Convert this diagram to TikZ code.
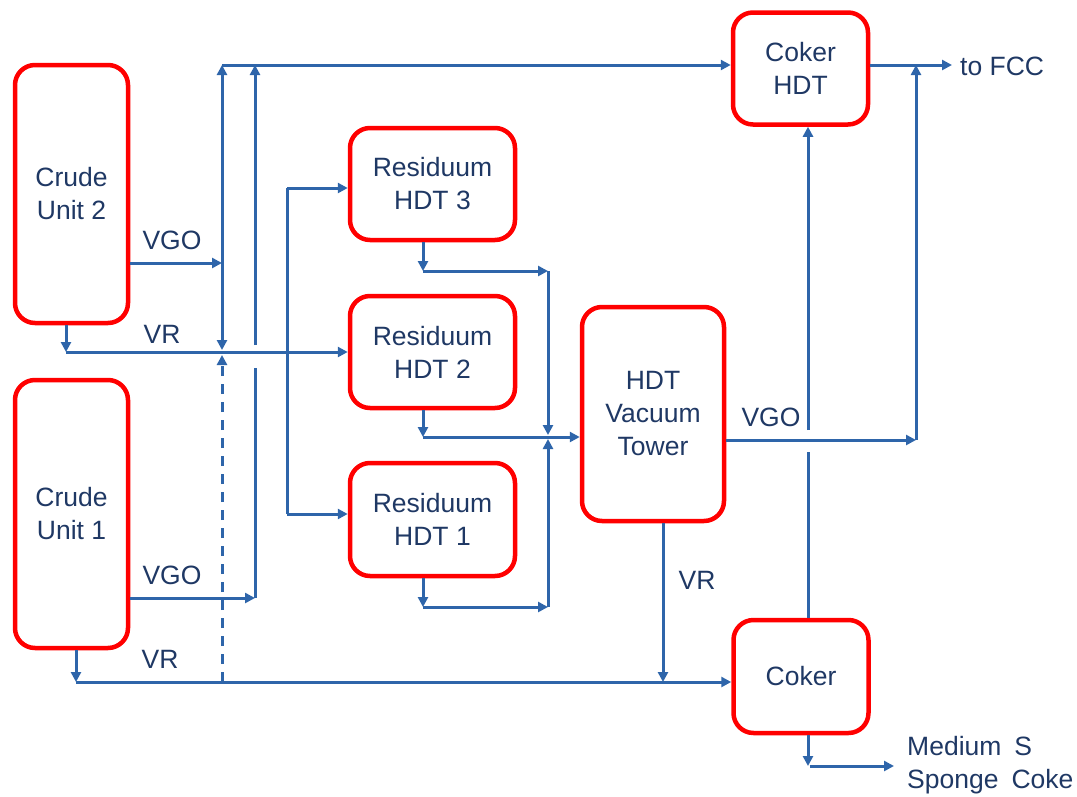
\documentclass[tikz,border=0pt]{standalone}
\usepackage{fontspec}
\setmainfont{Liberation Sans}
\usetikzlibrary{arrows.meta}
\definecolor{flow}{RGB}{46,101,170}
\definecolor{txt}{RGB}{31,56,100}
\definecolor{unitred}{RGB}{255,0,0}
\tikzset{
  unit/.style={draw=unitred, line width=4.5pt, rounded corners=20pt, align=center,
    text=txt, font=\fontsize{26.5}{33}\selectfont, inner sep=0pt},
  pipe/.style={draw=flow, line width=3pt},
  arr/.style={pipe, -{Triangle[length=10pt,width=10pt]}},
  lbl/.style={text=txt, font=\fontsize{26.5}{33}\selectfont, inner sep=0pt},
}
\begin{document}
\begin{tikzpicture}[x=1pt,y=-1pt]
\useasboundingbox (0,0) rectangle (1077,796);
% units
\node[unit, minimum width=113pt, minimum height=258pt] (cu2) at (71.5,194) {Crude\\Unit 2};
\node[unit, minimum width=113pt, minimum height=268pt] (cu1) at (71.5,514) {Crude\\Unit 1};
\node[unit, minimum width=165pt, minimum height=112pt] (r3) at (432.5,184) {Residuum\\HDT 3};
\node[unit, minimum width=165pt, minimum height=112pt] (r2) at (432.5,352) {Residuum\\HDT 2};
\node[unit, minimum width=165pt, minimum height=113pt] (r1) at (432.5,519.5) {Residuum\\HDT 1};
\node[unit, minimum width=142pt, minimum height=214pt] (vt) at (653,414) {HDT\\Vacuum\\Tower};
\node[unit, minimum width=135pt, minimum height=112pt] (ch) at (800.5,68.5) {Coker\\HDT};
\node[unit, minimum width=135pt, minimum height=113pt] (ck) at (801,676.5) {Coker};
% junction coordinates
\coordinate (aTop) at (222,65);
\coordinate (aMid) at (222,263);
\coordinate (aBot) at (222,350);
\coordinate (dTop) at (222,355);
\coordinate (dBot) at (222,682);
\coordinate (bTop) at (255,65);
\coordinate (bGapT) at (255,345);
\coordinate (bGapB) at (255,368);
\coordinate (bBot) at (255,598);
\coordinate (vr2) at (66,352);
\coordinate (vr1) at (76,682);
\coordinate (sTop) at (287,188);
\coordinate (sBot) at (287,514);
\coordinate (o3) at (423,271);
\coordinate (o2) at (423,437);
\coordinate (o1) at (423,607);
\coordinate (m3) at (548,271);
\coordinate (m1) at (548,607);
\coordinate (mU) at (548,435);
\coordinate (mD) at (548,439);
\coordinate (vtr) at (663,682);
\coordinate (vg) at (916,440);
\coordinate (vgT) at (916,65);
\coordinate (fcc) at (952,65);
\coordinate (kGapB) at (808,452);
\coordinate (kGapT) at (808,430);
\coordinate (kOut) at (808,766);
\coordinate (coke) at (894,766);
% Crude unit 2
\draw[arr] (cu2.east |- aMid) -- (aMid);
\draw[arr] (cu2.south -| vr2) -- (vr2);
\draw[arr] (vr2) -- (r2.west |- vr2);
\draw[pipe, {Triangle[length=10pt,width=10pt]}-{Triangle[length=10pt,width=10pt]}] (aBot) -- (aTop);
\draw[arr] (aTop) -- (ch.west |- aTop);
\draw[arr] (bGapT) -- (bTop);
\draw[pipe] (bGapB) -- (bBot);
% Crude unit 1
\draw[arr] (cu1.east |- bBot) -- (bBot);
\draw[arr] (cu1.south -| vr1) -- (vr1);
\draw[arr] (vr1) -- (ck.west |- vr1);
\draw[arr, dash pattern=on 10pt off 8pt] (dBot) -- (dTop);
% split to residuum HDT 3 and 1
\draw[pipe] (sTop) -- (sBot);
\draw[arr] (sTop) -- (r3.west |- sTop);
\draw[arr] (sBot) -- (r1.west |- sBot);
% residuum outlets
\draw[arr] (r3.south -| o3) -- (o3);
\draw[arr] (o3) -- (m3);
\draw[arr] (m3) -- (mU);
\draw[arr] (r2.south -| o2) -- (o2);
\draw[arr] (o2) -- (vt.west |- o2);
\draw[arr] (r1.south -| o1) -- (o1);
\draw[arr] (o1) -- (m1);
\draw[arr] (m1) -- (mD);
% vacuum tower
\draw[arr] (vt.south -| vtr) -- (vtr);
\draw[arr] (vt.east |- vg) -- (vg);
\draw[arr] (vg) -- (vgT);
\draw[arr] (ch.east |- fcc) -- (fcc);
% coker
\draw[pipe] (ck.north -| kGapB) -- (kGapB);
\draw[arr] (kGapT) -- (ch.south -| kGapT);
\draw[arr] (ck.south -| kOut) -- (kOut);
\draw[arr] ([xshift=1.5pt]kOut) -- (coke);
% labels
\node[lbl] (l1) at (172,240) {VGO};
\node[lbl] (l2) at (162,334) {VR};
\node[lbl] (l3) at (172,575) {VGO};
\node[lbl] (l4) at (160,659) {VR};
\node[lbl] (l5) at (697,580) {VR};
\node[lbl] (l6) at (771,417) {VGO};
\node[lbl, anchor=west] (l7) at (960,66) {to FCC};
\node[lbl, anchor=west, align=left] (l8) at (907,765) {Medium\hspace{13pt}S\\Sponge\hspace{13pt}Coke};
\end{tikzpicture}
\end{document}
